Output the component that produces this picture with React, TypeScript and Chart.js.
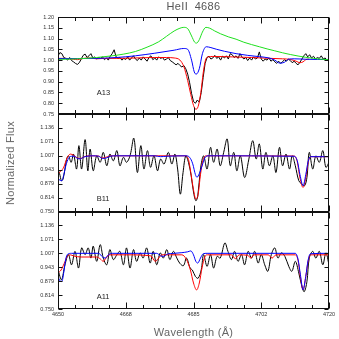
import React, { useEffect, useRef } from "react";
import { Chart, registerables } from "chart.js";
Chart.register(...registerables);

// ---------- axis data ----------
const xMajorTicks = [4650, 4667.5, 4685, 4702.5, 4720];
const xTickLabels = ["4650", "4668", "4685", "4702", "4720"];
const yTicksTop = [0.75, 0.8, 0.85, 0.9, 0.95, 1.0, 1.05, 1.1, 1.15, 1.2];
const yLabelsTop = ["0.75", "0.80", "0.85", "0.90", "0.95", "1.00", "1.05", "1.10", "1.15", "1.20"];
const yTicksLow = [0.75, 0.8143, 0.8786, 0.9429, 1.0071, 1.0714, 1.1357, 1.2];
const yLabelsLow = ["0.750", "0.814", "0.879", "0.943", "1.007", "1.071", "1.136", ""];
const panelNames = ["A13", "B11", "A11"];

// ---------- panel 1 (A13) ----------
const obs1Wave = [
  4650, 4650.5, 4651, 4651.5, 4652, 4652.5, 4653, 4653.5, 4654, 4654.5,
  4655, 4655.5, 4656, 4656.5, 4657, 4657.5, 4658, 4658.5, 4659, 4659.5,
  4660, 4660.5, 4661, 4661.5, 4662, 4662.5, 4663, 4663.5, 4664, 4664.5,
  4665, 4665.5, 4666, 4666.5, 4667, 4667.5, 4668, 4668.5, 4669, 4669.5,
  4670, 4670.5, 4671, 4671.5, 4672, 4672.5, 4673, 4673.5, 4674, 4674.5,
  4675, 4675.5, 4676, 4676.5, 4677, 4677.5, 4678, 4678.5, 4679, 4679.5,
  4680, 4680.5, 4681, 4681.5, 4682, 4682.5, 4683, 4683.5, 4684, 4684.5,
  4685, 4685.5, 4686, 4686.5, 4687, 4687.5, 4688, 4688.5, 4689, 4689.5,
  4690, 4690.5, 4691, 4691.5, 4692, 4692.5, 4693, 4693.5, 4694, 4694.5,
  4695, 4695.5, 4696, 4696.5, 4697, 4697.5, 4698, 4698.5, 4699, 4699.5,
  4700, 4700.5, 4701, 4701.5, 4702, 4702.5, 4703, 4703.5, 4704, 4704.5,
  4705, 4705.5, 4706, 4706.5, 4707, 4707.5, 4708, 4708.5, 4709, 4709.5,
  4710, 4710.5, 4711, 4711.5, 4712, 4712.5, 4713, 4713.5, 4714, 4714.5,
  4715, 4715.5, 4716, 4716.5, 4717, 4717.5, 4718, 4718.5, 4719, 4719.5,
  4720,
];
const obs1Flux = [
  1.020, 1.035, 1.030, 1.012, 1.008, 1.000, 1.012, 0.998, 0.992, 0.985,
  0.980, 0.988, 1.005, 1.022, 1.028, 1.012, 1.020, 1.030, 1.010, 1.015,
  1.005, 1.012, 1.008, 1.015, 1.002, 1.010, 1.000, 1.018, 1.030, 1.048,
  1.015, 1.008, 1.012, 1.000, 1.008, 1.003, 1.015, 1.000, 1.010, 1.020,
  1.005, 0.998, 1.010, 1.000, 1.015, 1.005, 0.995, 1.012, 1.020, 1.002,
  1.010, 1.000, 1.015, 1.008, 1.012, 1.000, 1.005, 1.012, 0.998, 0.992,
  0.985, 0.978, 0.985, 0.975, 0.968, 0.975, 0.960, 0.935, 0.895, 0.845,
  0.808, 0.800, 0.815, 0.805, 0.850, 0.920, 0.985, 1.012, 1.018, 1.005,
  1.010, 1.022, 1.008, 1.015, 1.000, 1.018, 1.010, 1.020, 1.005, 1.030,
  1.025, 1.012, 1.020, 1.008, 1.030, 1.015, 1.005, 1.012, 0.998, 1.010,
  1.000, 1.015, 1.005, 1.010, 1.038, 1.005, 0.995, 1.005, 1.000, 1.010,
  0.995, 1.002, 0.992, 0.985, 0.995, 0.985, 0.992, 1.002, 0.995, 1.005,
  0.998, 0.988, 0.995, 0.985, 0.978, 0.990, 1.005, 1.020, 1.030, 1.015,
  1.025, 1.010, 1.018, 1.005, 1.012, 1.008, 1.020, 1.005, 1.010, 0.998,
  1.000,
];
const red1Wave = [4650, 4652, 4654, 4655, 4656, 4658, 4660, 4662, 4665, 4670, 4675, 4678, 4680, 4681.5, 4682.5, 4683.5, 4684.3, 4685, 4685.6, 4686.2, 4686.9, 4687.5, 4688.1, 4688.8, 4690, 4695, 4700, 4705, 4708, 4710, 4711.5, 4712.5, 4713.3, 4714, 4714.8];
const red1Flux = [1.008, 1.008, 1.004, 1.002, 1.006, 1.010, 1.006, 1.008, 1.008, 1.010, 1.012, 1.012, 1.010, 1.0, 0.97, 0.905, 0.84, 0.79, 0.772, 0.785, 0.85, 0.94, 1.0, 1.015, 1.017, 1.015, 1.012, 1.008, 1.006, 1.003, 0.995, 0.988, 0.992, 1.002, 1.005];
const blue1Wave = [4650, 4660, 4665, 4670, 4675, 4680, 4682.5, 4683.5, 4684.5, 4685.2, 4685.7, 4686.5, 4687.3, 4688.3, 4689.5, 4691, 4693, 4696, 4699, 4702, 4704.5, 4706, 4707.3, 4708.5, 4709.5, 4711, 4714, 4717, 4720];
const blue1Flux = [1.007, 1.008, 1.012, 1.02, 1.032, 1.046, 1.054, 1.05, 1.0, 0.945, 0.935, 0.96, 1.03, 1.062, 1.058, 1.05, 1.041, 1.03, 1.022, 1.016, 1.01, 1.0, 0.986, 0.99, 1.004, 1.006, 1.004, 1.003, 1.003];
const green1Wave = [4650, 4655, 4660, 4664, 4667, 4670, 4673, 4676, 4678, 4680, 4681.5, 4682.5, 4683.5, 4684.5, 4685.3, 4685.8, 4686.5, 4687.3, 4688.2, 4689.2, 4690.5, 4692, 4694, 4696, 4698, 4700, 4702, 4704, 4706, 4708, 4710, 4712, 4714, 4716, 4718, 4720];
const green1Flux = [1.003, 1.006, 1.012, 1.020, 1.028, 1.040, 1.060, 1.085, 1.110, 1.135, 1.148, 1.152, 1.146, 1.112, 1.083, 1.079, 1.095, 1.130, 1.152, 1.148, 1.135, 1.122, 1.108, 1.097, 1.083, 1.072, 1.062, 1.052, 1.043, 1.034, 1.026, 1.019, 1.013, 1.008, 1.004, 1.002];

// ---------- panel 2 (B11) ----------
const obs2Wave = [
  4650, 4650.4, 4650.9, 4651.3, 4651.8, 4652.2, 4652.7, 4653.4, 4654, 4654.8,
  4655.4, 4656.1, 4657, 4657.7, 4658.3, 4659.1, 4660, 4660.9, 4661.7, 4662.6,
  4663.4, 4664.3, 4665.2, 4666, 4666.9, 4667.7, 4668.6, 4669.6, 4670.5, 4671.4,
  4672.2, 4673.1, 4673.9, 4674.8, 4675.7, 4676.5, 4677.4, 4678.5, 4679.4, 4680.2,
  4680.9, 4681.6, 4682.3, 4683, 4683.7, 4684.4, 4685, 4685.6, 4686.1, 4686.8,
  4687.6, 4688.5, 4689.4, 4690.2, 4691.1, 4691.9, 4692.8, 4693.7, 4694.5, 4695.4,
  4696.2, 4697.1, 4698.2, 4699.3, 4700.3, 4701.2, 4702, 4702.9, 4703.7, 4704.6,
  4705.5, 4706.3, 4707.2, 4708, 4708.9, 4709.8, 4710.5, 4711.3, 4712.2, 4713,
  4713.7, 4714.3, 4714.9, 4715.8, 4716.6, 4717.5, 4718.4, 4719.2, 4720,
];
const obs2Flux = [
  0.946, 0.925, 0.892, 0.900, 0.946, 0.990, 1.007, 0.977, 1.015, 0.946,
  1.054, 0.946, 1.082, 0.938, 1.038, 0.938, 1.007, 0.977, 1.023, 0.961,
  1.015, 0.984, 1.031, 0.961, 1.000, 0.977, 1.007, 1.088, 0.930, 1.054,
  0.946, 1.031, 0.954, 1.007, 0.938, 0.992, 0.969, 1.023, 0.969, 1.015,
  0.946, 0.830, 0.930, 1.007, 0.977, 0.915, 0.840, 0.800, 0.820, 0.946,
  1.007, 0.946, 1.046, 0.977, 1.038, 0.961, 1.023, 1.085, 0.961, 1.023,
  0.938, 1.007, 0.907, 0.992, 1.077, 0.992, 1.062, 0.946, 1.023, 0.961,
  1.007, 0.930, 1.046, 0.961, 1.015, 0.946, 1.007, 0.961, 0.892, 0.876,
  0.869, 0.907, 1.023, 0.946, 1.007, 0.977, 1.031, 0.954, 0.977,
];
const red2Wave = [4650, 4650.7, 4651.5, 4652.3, 4653.2, 4654, 4655, 4655.8, 4656.8, 4658, 4660.5, 4661.3, 4662.3, 4663.5, 4665, 4676, 4683, 4683.7, 4684.3, 4685, 4685.6, 4686.2, 4686.8, 4687.5, 4688.3, 4711, 4711.8, 4712.5, 4713.3, 4714, 4714.6, 4715.2, 4720];
const red2Flux = [0.925, 0.935, 0.955, 0.995, 1.015, 1.010, 0.997, 0.995, 1.003, 1.007, 1.006, 0.997, 1.0, 1.006, 1.007, 1.007, 1.007, 0.99, 0.93, 0.85, 0.807, 0.83, 0.92, 0.99, 1.007, 1.006, 0.98, 0.905, 0.861, 0.905, 0.975, 1.003, 1.003];
const blue2Wave = [4650, 4650.5, 4651, 4651.5, 4652, 4652.7, 4653.5, 4654.2, 4655, 4655.8, 4656.5, 4657.5, 4659, 4660.5, 4661.5, 4662.5, 4663.5, 4665, 4675, 4676.5, 4678, 4683, 4684, 4684.8, 4685.5, 4685.9, 4686.5, 4687.2, 4688, 4689, 4711, 4711.8, 4712.5, 4713.3, 4714, 4714.6, 4715.2, 4720];
const blue2Flux = [0.90, 0.895, 0.892, 0.92, 0.96, 0.995, 1.005, 1.005, 0.995, 0.993, 1.0, 1.005, 1.007, 1.005, 0.995, 0.997, 1.005, 1.007, 1.007, 1.003, 1.005, 1.007, 1.0, 0.97, 0.92, 0.908, 0.925, 0.96, 1.0, 1.007, 1.005, 0.985, 0.92, 0.869, 0.92, 0.98, 1.003, 1.003];

// ---------- panel 3 (A11) ----------
const obs3Wave = [
  4650.1, 4650.9, 4651.8, 4652.7, 4653.5, 4654.4, 4655.3, 4656.1, 4657, 4657.8,
  4658.5, 4659.1, 4660, 4660.9, 4661.7, 4662.6, 4663.4, 4664.3, 4665.2, 4666,
  4666.9, 4667.7, 4668.6, 4669.5, 4670.3, 4671.2, 4672, 4672.9, 4673.8, 4674.6,
  4675.5, 4676.4, 4677.2, 4678.1, 4678.9, 4679.8, 4680.7, 4681.5, 4682.4, 4683.2,
  4684.1, 4684.7, 4685.5, 4686.2, 4687, 4687.6, 4688.5, 4689.4, 4690.2, 4691.1,
  4691.9, 4693.1, 4693.9, 4694.8, 4695.6, 4696.5, 4697.4, 4698.2, 4699.1, 4700,
  4700.8, 4701.7, 4702.5, 4703.4, 4704.2, 4705.1, 4706, 4706.8, 4707.7, 4708.6,
  4709.6, 4710.4, 4711.3, 4712.2, 4713, 4713.6, 4714.3, 4714.9, 4715.8, 4716.6,
  4717.5, 4718.4, 4719.2, 4720,
];
const obs3Flux = [
  0.924, 0.885, 0.954, 1.001, 0.954, 1.016, 0.939, 1.032, 1.001, 1.032,
  0.985, 1.040, 0.970, 1.047, 0.985, 0.954, 1.024, 0.978, 1.000, 1.016,
  0.954, 1.032, 0.939, 1.024, 0.970, 1.009, 0.985, 1.032, 0.962, 1.016,
  0.954, 1.009, 0.985, 1.024, 0.978, 1.016, 0.985, 0.960, 0.950, 0.985,
  0.940, 0.930, 0.900, 0.892, 0.931, 1.001, 0.947, 1.001, 0.939, 0.993,
  0.985, 1.055, 1.016, 0.978, 1.016, 0.970, 1.001, 0.954, 1.016, 0.985,
  1.016, 0.962, 1.001, 0.954, 0.924, 1.001, 1.032, 0.985, 1.009, 0.993,
  0.947, 0.924, 0.970, 0.916, 0.854, 0.830, 0.877, 0.985, 1.016, 0.985,
  1.016, 0.954, 1.009, 0.954,
];
const red3Wave = [4650, 4650.8, 4651.6, 4652.4, 4653.2, 4654, 4656, 4658, 4660, 4661, 4661.7, 4662.4, 4663.2, 4668, 4674, 4675.1, 4676, 4676.8, 4682, 4683.2, 4684.2, 4685, 4685.8, 4686.5, 4687.2, 4687.9, 4688.6, 4694.8, 4695.8, 4696.8, 4699, 4699.8, 4700.6, 4704.3, 4705.3, 4706.3, 4711.3, 4712, 4712.6, 4713.3, 4714, 4714.6, 4715.2, 4720];
const red3Flux = [0.916, 0.93, 0.96, 0.993, 1.0, 0.995, 0.99, 0.99, 0.99, 0.98, 0.97, 0.985, 1.0, 1.0, 0.995, 0.97, 0.985, 1.0, 1.0, 0.978, 0.93, 0.87, 0.838, 0.87, 0.94, 0.99, 1.0, 1.0, 0.982, 1.0, 0.998, 0.985, 1.0, 1.0, 0.985, 1.0, 1.0, 0.975, 0.9, 0.838, 0.9, 0.97, 1.0, 1.0];
const blue3Wave = [4650, 4650.5, 4651, 4651.5, 4652, 4652.5, 4653.5, 4660.5, 4661.5, 4662.2, 4663, 4664, 4675.5, 4676.5, 4677.3, 4678.2, 4680, 4682, 4683.5, 4684.3, 4685, 4685.6, 4686.1, 4686.8, 4687.5, 4688.5, 4711.3, 4712, 4712.6, 4713.3, 4714, 4714.6, 4715.2, 4720];
const blue3Flux = [0.90, 0.88, 0.877, 0.92, 0.98, 1.003, 1.007, 1.007, 0.99, 0.985, 1.0, 1.007, 1.007, 0.995, 0.993, 1.003, 1.007, 1.01, 1.014, 1.018, 1.0, 0.97, 0.962, 0.985, 1.005, 1.007, 1.007, 0.98, 0.91, 0.838, 0.9, 0.975, 1.005, 1.007];

// label anchor (data coords)
const labelWave = [4660, 4660, 4660];
const labelFlux = [0.85, 0.806, 0.804];

const pts = (w: number[], f: number[]) => w.map((x, i) => ({ x, y: f[i] }));

const W = 339;
const H = 339;
const AREA_LEFT = 58;
const AREA_RIGHT = 329;
const panelTops = [17, 114, 211.5];
const panelBottoms = [114, 211.5, 309];

const TICK_FONT = { family: "'Liberation Sans', Arial, sans-serif", size: 5.5 };

function makeFramePlugin(panelIdx: number, yTicks: number[]) {
  return {
    id: "frame" + panelIdx,
    afterDatasetsDraw(chart: any) {
      const { ctx, chartArea: a, scales } = chart;
      const xs = scales.x;
      const ys = scales.y;
      const L = Math.round(a.left) + 0.5;
      const R = Math.round(a.right) - 0.5;
      const T = Math.round(a.top) + 0.5;
      const B = Math.round(a.bottom) - 0.5;
      ctx.save();
      ctx.strokeStyle = "#111";
      ctx.lineWidth = 1;
      ctx.strokeRect(L, T, R - L, B - T);
      ctx.beginPath();
      const vtick = (px: number, len: number) => {
        const x = Math.round(px) + 0.5;
        ctx.moveTo(x, B);
        ctx.lineTo(x, B - len);
        ctx.moveTo(x, T);
        ctx.lineTo(x, T + len);
      };
      for (let i = 0; i < xMajorTicks.length; i++) {
        vtick(xs.getPixelForValue(xMajorTicks[i]), 6);
        if (i < xMajorTicks.length - 1) {
          const step = (xMajorTicks[i + 1] - xMajorTicks[i]) / 4;
          for (let k = 1; k < 4; k++) vtick(xs.getPixelForValue(xMajorTicks[i] + k * step), 3.5);
        }
      }
      for (const v of yTicks) {
        const y = Math.round(ys.getPixelForValue(v)) + 0.5;
        ctx.moveTo(L, y);
        ctx.lineTo(L + 4, y);
        ctx.moveTo(R, y);
        ctx.lineTo(R - 4, y);
      }
      ctx.stroke();
      ctx.fillStyle = "#222";
      ctx.font = "7.5px 'Liberation Sans', Arial, sans-serif";
      ctx.textAlign = "left";
      ctx.textBaseline = "middle";
      ctx.fillText(
        panelNames[panelIdx],
        xs.getPixelForValue(labelWave[panelIdx]),
        ys.getPixelForValue(labelFlux[panelIdx])
      );
      ctx.restore();
    },
  };
}

function buildConfig(panelIdx: number): any {
  const isTop = panelIdx === 0;
  const isBottom = panelIdx === 2;
  const yTicks = isTop ? yTicksTop : yTicksLow;
  const yLabels = isTop ? yLabelsTop : yLabelsLow;
  const xAxisH = isBottom ? 14 : 0;

  const obs = [
    pts(obs1Wave, obs1Flux),
    pts(obs2Wave, obs2Flux),
    pts(obs3Wave, obs3Flux),
  ][panelIdx];
  const red = [pts(red1Wave, red1Flux), pts(red2Wave, red2Flux), pts(red3Wave, red3Flux)][panelIdx];
  const blue = [pts(blue1Wave, blue1Flux), pts(blue2Wave, blue2Flux), pts(blue3Wave, blue3Flux)][panelIdx];

  const model = (data: any[], color: string, order: number) => ({
    data,
    borderColor: color,
    borderWidth: 1,
    pointRadius: 0,
    fill: false,
    cubicInterpolationMode: "monotone",
    order,
  });

  const datasets: any[] = [
    {
      data: obs,
      borderColor: "#000",
      borderWidth: 1,
      pointRadius: 0,
      fill: false,
      tension: isTop ? 0 : 0.35,
      order: 4,
    },
    model(red, "#ff0000", 3),
    model(blue, "#0000ff", 2),
  ];
  if (isTop) datasets.push(model(pts(green1Wave, green1Flux), "#1ee01e", 1));

  return {
    type: "line",
    data: { datasets },
    plugins: [makeFramePlugin(panelIdx, yTicks)],
    options: {
      responsive: false,
      maintainAspectRatio: false,
      animation: false,
      events: [],
      parsing: true,
      layout: {
        padding: {
          left: 0,
          right: W - AREA_RIGHT,
          top: panelTops[panelIdx],
          bottom: H - panelBottoms[panelIdx] - xAxisH,
        },
      },
      plugins: {
        legend: { display: false },
        tooltip: { enabled: false },
        title: { display: false },
      },
      scales: {
        x: {
          type: "linear",
          min: 4650,
          max: 4720,
          afterBuildTicks: (s: any) => {
            s.ticks = xMajorTicks.map((v) => ({ value: v }));
          },
          afterFit: (s: any) => {
            s.height = xAxisH;
          },
          ticks: {
            display: isBottom,
            autoSkip: false,
            maxRotation: 0,
            padding: 2.5,
            color: "#333",
            font: TICK_FONT,
            callback: (_v: any, i: number) => xTickLabels[i],
          },
          grid: { display: false, drawTicks: false },
          border: { display: false },
        },
        y: {
          type: "linear",
          min: 0.75,
          max: 1.2,
          afterBuildTicks: (s: any) => {
            s.ticks = yTicks.map((v) => ({ value: v }));
          },
          afterFit: (s: any) => {
            s.width = AREA_LEFT;
          },
          ticks: {
            autoSkip: false,
            padding: 4,
            color: "#333",
            font: TICK_FONT,
            callback: (_v: any, i: number) => yLabels[i],
          },
          grid: { display: false, drawTicks: false },
          border: { display: false },
        },
      },
    },
  };
}

export default function App() {
  const r0 = useRef<HTMLCanvasElement>(null);
  const r1 = useRef<HTMLCanvasElement>(null);
  const r2 = useRef<HTMLCanvasElement>(null);

  useEffect(() => {
    document.body.style.margin = "0";
    const refs = [r0, r1, r2];
    const charts = refs.map((r, i) => new Chart(r.current as HTMLCanvasElement, buildConfig(i)));
    return () => charts.forEach((c) => c.destroy());
  }, []);

  const canvasStyle: React.CSSProperties = {
    position: "absolute",
    left: 0,
    top: 0,
    width: W,
    height: H,
  };
  const textFont = "'Liberation Sans', Arial, sans-serif";

  return (
    <div
      style={{
        position: "fixed",
        left: 0,
        top: 0,
        width: W,
        height: H,
        background: "#fff",
        overflow: "hidden",
      }}
    >
      <canvas ref={r0} width={W} height={H} style={canvasStyle} />
      <canvas ref={r1} width={W} height={H} style={canvasStyle} />
      <canvas ref={r2} width={W} height={H} style={canvasStyle} />
      <div
        style={{
          position: "absolute",
          left: 93.5,
          width: 200,
          top: 0,
          textAlign: "center",
          font: `11px ${textFont}`,
          lineHeight: "13px",
          color: "#555",
          letterSpacing: "0.3px",
          whiteSpace: "pre",
        }}
      >
        {"HeII  4686"}
      </div>
      <div
        style={{
          position: "absolute",
          left: 9.5,
          top: 163,
          transform: "translate(-50%, -50%) rotate(-90deg)",
          font: `11px ${textFont}`,
          color: "#666",
          whiteSpace: "nowrap",
          letterSpacing: "0.3px",
        }}
      >
        Normalized Flux
      </div>
      <div
        style={{
          position: "absolute",
          left: 193.5,
          top: 331.5,
          transform: "translate(-50%, -50%)",
          font: `11px ${textFont}`,
          color: "#666",
          whiteSpace: "nowrap",
          letterSpacing: "0.3px",
        }}
      >
        Wavelength (Å)
      </div>
    </div>
  );
}
